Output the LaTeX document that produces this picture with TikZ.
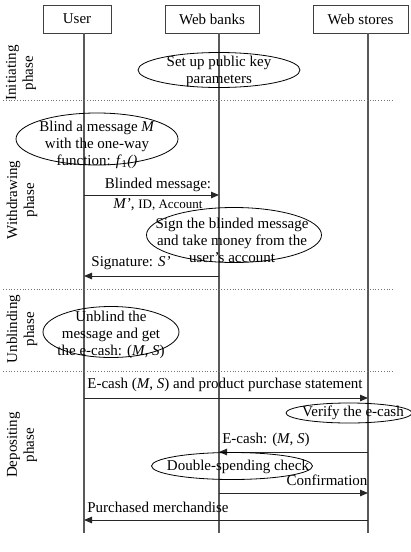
\documentclass[tikz,border=0pt]{standalone}
\usepackage{fontspec}
\setmainfont{Liberation Serif}
\usetikzlibrary{arrows.meta,shapes.geometric}

\tikzset{
	actor/.style={draw=black!75, line width=0.8pt, minimum height=28pt, inner sep=0pt},
	life/.style={draw=black!65, line width=1.4pt},
	phaseline/.style={draw=black!55, dotted, line width=0.8pt},
	msg/.style={draw=black!85, line width=1pt, -{Triangle[length=8pt,width=6.5pt]}},
	proc/.style={draw, ellipse, line width=0.8pt, inner sep=0pt},
	txt/.style={align=center, inner sep=0pt},
	phase/.style={rotate=90, align=center, inner sep=0pt}
}

\begin{document}
\begin{tikzpicture}[x=1pt, y=-1pt, font=\fontsize{15}{17}\selectfont]
	%%%%% START %%%%%
	\useasboundingbox (0,0) rectangle (411,552);
	
	\node[actor, minimum width=68pt] (user) at (77,19) {User};
	\node[actor, minimum width=94pt] (banks) at (212,19) {Web banks};
	\node[actor, minimum width=95pt] (stores) at (360.5,19) {Web stores};
	
	\coordinate (utop) at (84,33);
	\coordinate (ubot) at (84,533);
	\coordinate (btop) at (219,33);
	\coordinate (bbot) at (219,533);
	\coordinate (stop) at (368,33);
	\coordinate (sbot) at (368,533);
	\draw[life] (utop) -- (ubot);
	\draw[life] (btop) -- (bbot);
	\draw[life] (stop) -- (sbot);
	
	\draw[phaseline] (3,100) -- (393,100);
	\draw[phaseline] (3,289) -- (393,289);
	\draw[phaseline] (3,371) -- (393,371);
	
	\node[phase] (ph1) at (21,73) {Initiating\\phase};
	\node[phase] (ph2) at (22,200) {Withdrawing\\phase};
	\node[phase] (ph3) at (22,329) {Unblinding\\phase};
	\node[phase] (ph4) at (22,445) {Depositing\\phase};
	
	% initiating
	\node[proc, minimum width=162pt, minimum height=35pt] (setup) at (219,70) {};
	\node[txt] (setuptxt) at (219,71) {Set up public key\\parameters};
	
	% withdrawing
	\node[proc, minimum width=162pt, minimum height=52pt] (blind) at (97,139) {};
	\node[txt] (blindtxt) at (97,145) {Blind a message \textit{M}\\with the one-way\\function: \textit{f}\textsubscript{1}\textit{()}};
	
	\coordinate (u1) at (84,195);
	\coordinate (b1) at (219,195);
	\draw[msg] (u1) -- (b1);
	\node[txt] (m1a) at (158,185) {Blinded message:};
	\node[txt] (m1b) at (158,205) {\textit{M’}, {\fontsize{13}{15}\selectfont ID, Account}};
	
	\node[proc, minimum width=175pt, minimum height=55pt] (sign) at (234,235) {};
	\node[txt] (signtxt) at (232,240) {Sign the blinded message\\and take money from the\\user’s account};
	
	\coordinate (b2) at (219,276);
	\coordinate (u2) at (84,276);
	\draw[msg] (b2) -- (u2);
	\node[txt] (m2) at (131,263) {Signature: \textit{S’}};
	
	% unblinding
	\node[proc, minimum width=136pt, minimum height=51pt] (unblind) at (111,332) {};
	\node[txt] (unblindtxt) at (111,335) {Unblind the\\message and get\\the e-cash: (\textit{M}, \textit{S})};
	
	% depositing
	\coordinate (u3) at (84,398);
	\coordinate (s3) at (368,398);
	\draw[msg] (u3) -- (s3);
	\node[txt] (m3) at (225,385) {E-cash (\textit{M}, \textit{S}) and product purchase statement};
	
	\node[proc, minimum width=126pt, minimum height=20pt] (verify) at (349,413) {};
	\node[txt] (verifytxt) at (353,413) {Verify the e-cash};
	
	\coordinate (s4) at (368,452);
	\coordinate (b4) at (219,452);
	\draw[msg] (s4) -- (b4);
	\node[txt] (m4) at (266,440) {E-cash: (\textit{M}, \textit{S})};
	
	\node[proc, minimum width=161pt, minimum height=27pt] (double) at (232,466) {};
	\node[txt] (doubletxt) at (238,467) {Double-spending check};
	
	\coordinate (b5) at (219,493);
	\coordinate (s5) at (368,493);
	\draw[msg] (b5) -- (s5);
	\node[txt] (m5) at (327,480) {Confirmation};
	
	\coordinate (s6) at (368,520);
	\coordinate (u6) at (84,520);
	\draw[msg] (s6) -- (u6);
	\node[txt] (m6) at (158,507) {Purchased merchandise};
	%%%%% END %%%%%
\end{tikzpicture}
\end{document}
